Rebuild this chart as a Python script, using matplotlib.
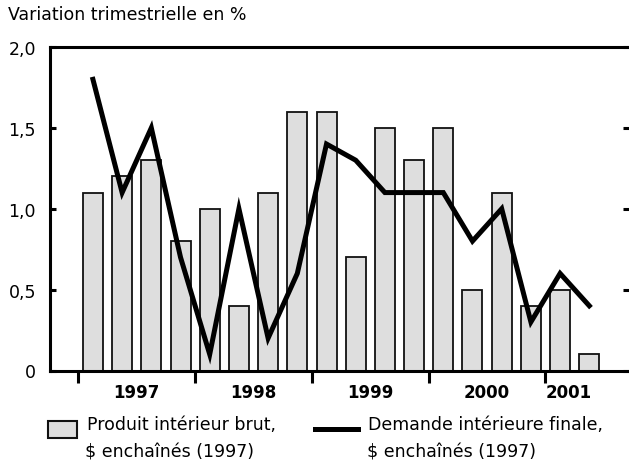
import matplotlib
matplotlib.use("Agg")
import matplotlib.pyplot as plt
from matplotlib.patches import Rectangle
from matplotlib.lines import Line2D
import matplotlib.transforms as mtransforms

plt.rcParams['font.family'] = ['DejaVu Sans']

# Data: quarterly % change, 1997Q1 .. 2001Q2
quarters = list(range(18))
pib = [1.1, 1.2, 1.3, 0.8, 1.0, 0.4, 1.1, 1.6, 1.6, 0.7, 1.5, 1.3, 1.5, 0.5, 1.1, 0.4, 0.5, 0.1]
demande = [1.8, 1.1, 1.5, 0.7, 0.1, 1.0, 0.2, 0.6, 1.4, 1.3, 1.1, 1.1, 1.1, 0.8, 1.0, 0.3, 0.6, 0.4]
years = ["1997", "1998", "1999", "2000", "2001"]
year_pos = [1.5, 5.5, 9.5, 13.5, 16.3]
year_bounds = [-0.5, 3.5, 7.5, 11.5, 15.5]
yticks = [0, 0.5, 1.0, 1.5, 2.0]
ytick_labels = ["0", "0,5", "1,0", "1,5", "2,0"]

FS = 12.5

fig = plt.figure(figsize=(6.29, 4.64), dpi=100)
ax = fig.add_axes([50/629, 1-371.5/464, 1-50/629, (371.5-48)/464])

ax.bar(quarters, pib, width=0.685, color='#dedede', edgecolor='#111111', linewidth=1.3, zorder=2)
ax.plot(quarters, demande, color='black', linewidth=3.6, zorder=3, solid_joinstyle='miter')

ax.set_xlim(-1.47, 18.36)
ax.set_ylim(0, 2.0)

for s in ['top', 'left', 'bottom']:
    ax.spines[s].set_linewidth(2.2)
ax.spines['right'].set_visible(False)

ax.set_yticks(yticks)
ax.set_yticklabels(ytick_labels, fontsize=FS)
ax.tick_params(axis='y', direction='in', length=4.5, width=2.2, pad=10, right=True)
ax.set_xticks(year_bounds)
ax.set_xticklabels([])
ax.tick_params(axis='x', direction='out', length=8.5, width=2.2)

trans = mtransforms.blended_transform_factory(ax.transData, ax.transAxes)
for yp, yl in zip(year_pos, years):
    ax.text(yp, -0.0665, yl, transform=trans, ha='center', va='center',
            fontsize=FS - 0.5, fontweight='bold')

fig.text(8/629, 1-15.5/464, "Variation trimestrielle en %", fontsize=FS, ha='left', va='center')

# Legend
fig.patches.append(Rectangle((48/629, 1-439/464), 29/629, 17/464, transform=fig.transFigure,
                             facecolor='#dedede', edgecolor='#111111', linewidth=1.5))
fig.text(87/629, 1-425/464, "Produit intérieur brut,", fontsize=FS, ha='left', va='center')
fig.text(85/629, 1-453/464, "$ enchaînés (1997)", fontsize=FS, ha='left', va='center')
fig.lines.append(Line2D([315/629, 358/629], [1-430/464, 1-430/464], transform=fig.transFigure,
                        color='black', linewidth=3.6))
fig.text(368/629, 1-425/464, "Demande intérieure finale,", fontsize=FS, ha='left', va='center')
fig.text(367/629, 1-453/464, "$ enchaînés (1997)", fontsize=FS, ha='left', va='center')

fig.savefig("out.png", dpi=100)
